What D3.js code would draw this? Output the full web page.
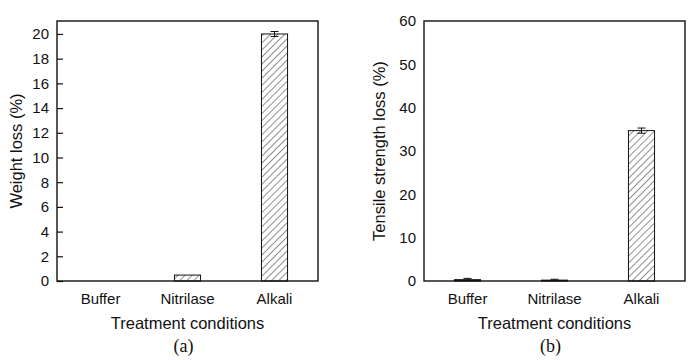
<!DOCTYPE html>
<html><head><meta charset="utf-8">
<script src="https://cdn.jsdelivr.net/npm/d3@7"></script>
<style>body{margin:0;background:#fff}svg{display:block}</style>
</head><body>
<svg id="c" width="697" height="360"></svg>
<script>
const categories = ["Buffer", "Nitrilase", "Alkali"];
const weightLoss = [0, 0.48, 20.0];
const weightErr = [0, 0, 0.2];
const tensileLoss = [0.3, 0.2, 34.7];
const tensileErr = [0.3, 0.2, 0.6];
const weightTicks = [0, 2, 4, 6, 8, 10, 12, 14, 16, 18, 20];
const tensileTicks = [0, 10, 20, 30, 40, 50, 60];

const svg = d3.select("#c");
const defs = svg.append("defs");
const pat = defs.append("pattern").attr("id", "hatch").attr("patternUnits", "userSpaceOnUse")
  .attr("width", 5).attr("height", 5).attr("patternTransform", "rotate(45)");
pat.append("rect").attr("width", 5).attr("height", 5).attr("fill", "#fff");
pat.append("line").attr("x1", 0).attr("y1", 0).attr("x2", 0).attr("y2", 5)
  .attr("stroke", "#222").attr("stroke-width", 1);

const font = "'Liberation Sans', Arial, sans-serif";

function panel(opt) {
  const {x0, x1, y0, y1, values, errs, ymax, ticks, ylabel, ylabelX, tag, tickMarks} = opt;
  const g = svg.append("g");
  const x = d3.scaleBand().domain(categories).range([x0, x1]).paddingInner(0.7).paddingOuter(0.35);
  const y = d3.scaleLinear().domain([0, ymax]).range([y1, y0]);

  // bars
  g.selectAll("rect.bar").data(categories).enter().append("rect")
    .attr("x", d => x(d)).attr("width", x.bandwidth())
    .attr("y", (d, i) => y(values[i]))
    .attr("height", (d, i) => y(0) - y(values[i]))
    .attr("fill", (d, i) => (y(0) - y(values[i]) > 3 ? "url(#hatch)" : "#111"))
    .attr("stroke", "#111").attr("stroke-width", 1)
    .style("display", (d, i) => values[i] > 0 ? null : "none");

  // error bars
  categories.forEach((c, i) => {
    if (errs[i] <= 0) return;
    const cx = x(c) + x.bandwidth() / 2;
    const hi = y(values[i] + errs[i]), lo = y(Math.max(0, values[i] - errs[i]));
    g.append("line").attr("x1", cx).attr("x2", cx).attr("y1", hi).attr("y2", lo)
      .attr("stroke", "#111").attr("stroke-width", 1);
    g.append("line").attr("x1", cx - 4).attr("x2", cx + 4).attr("y1", hi).attr("y2", hi)
      .attr("stroke", "#111").attr("stroke-width", 1);
    if (values[i] - errs[i] > 0)
      g.append("line").attr("x1", cx - 4).attr("x2", cx + 4).attr("y1", lo).attr("y2", lo)
        .attr("stroke", "#111").attr("stroke-width", 1);
  });

  // y axis
  const ay = g.append("g").attr("transform", `translate(${x0},0)`)
    .call(d3.axisLeft(y).tickValues(ticks).tickSizeInner(tickMarks ? -6 : 0).tickSizeOuter(0).tickPadding(8));
  ay.select(".domain").remove();
  ay.selectAll("line").attr("stroke", "#111").attr("stroke-width", 1.2);
  ay.selectAll("text").attr("font-family", font).attr("font-size", 15).attr("fill", "#111");
  if (tickMarks) ay.selectAll("text").attr("x", -8);

  // x axis labels
  const ax = g.append("g").attr("transform", `translate(0,${y1})`)
    .call(d3.axisBottom(x).tickSize(0).tickPadding(12));
  ax.select(".domain").remove();
  ax.selectAll("text").attr("font-family", font).attr("font-size", 15).attr("fill", "#111");

  // frame
  g.append("rect").attr("x", x0).attr("y", y0).attr("width", x1 - x0).attr("height", y1 - y0)
    .attr("fill", "none").attr("stroke", "#111").attr("stroke-width", 1.4);

  // axis titles
  g.append("text").attr("transform", `translate(${ylabelX},${(y0 + y1) / 2}) rotate(-90)`)
    .attr("text-anchor", "middle").attr("font-family", font).attr("font-size", 16.5).attr("fill", "#111")
    .text(ylabel);
  g.append("text").attr("x", (x0 + x1) / 2).attr("y", 329).attr("text-anchor", "middle")
    .attr("font-family", font).attr("font-size", 16.5).attr("fill", "#111").text("Treatment conditions");
  g.append("text").attr("x", (x0 + x1) / 2 - 4).attr("y", 352).attr("text-anchor", "middle")
    .attr("font-family", "'Liberation Serif', 'Times New Roman', serif").attr("font-size", 18).attr("fill", "#111").text(tag);
}

panel({x0: 57, x1: 318, y0: 21, y1: 281, values: weightLoss, errs: weightErr, ymax: 21.05,
  ticks: weightTicks, ylabel: "Weight loss (%)", ylabelX: 22, tag: "(a)", tickMarks: true});
panel({x0: 424, x1: 685, y0: 21, y1: 281, values: tensileLoss, errs: tensileErr, ymax: 60,
  ticks: tensileTicks, ylabel: "Tensile strength loss (%)", ylabelX: 385, tag: "(b)", tickMarks: false});
</script>
</body></html>
